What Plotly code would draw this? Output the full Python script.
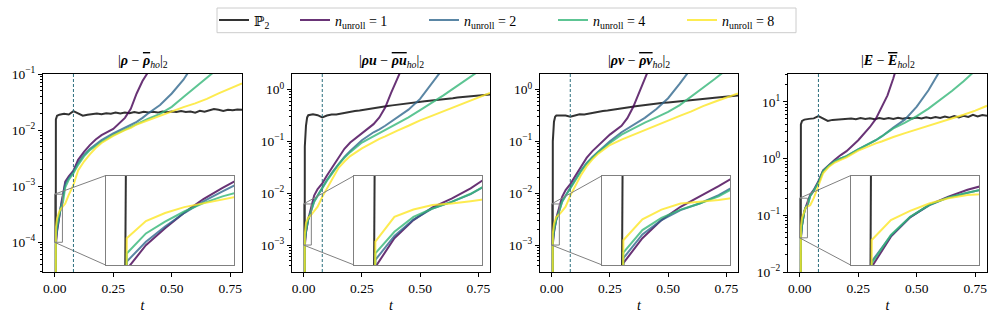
import math
import plotly.graph_objects as go

# ---------------- data ----------------
t = [0, 0.005, 0.01, 0.015, 0.02, 0.025, 0.03, 0.035, 0.045, 0.06, 0.08, 0.1,
     0.125, 0.15, 0.175, 0.2, 0.25, 0.3, 0.325, 0.35, 0.375, 0.4, 0.45, 0.5,
     0.55, 0.6, 0.65, 0.7, 0.75, 0.8]
t_p2 = [0, 0.005, 0.01, 0.015, 0.02, 0.04, 0.06, 0.08, 0.1, 0.12, 0.14, 0.16,
        0.18, 0.2, 0.22, 0.24, 0.26, 0.28, 0.3, 0.32, 0.34, 0.36, 0.38, 0.4,
        0.42, 0.44, 0.46, 0.48, 0.5, 0.52, 0.54, 0.56, 0.58, 0.6, 0.62, 0.64,
        0.66, 0.68, 0.7, 0.72, 0.74, 0.76, 0.78, 0.8]

# density error
rho_p2 = [0, 1.55e-2, 1.8e-2, 1.85e-2, 1.88e-2, 1.95e-2, 1.9e-2, 2.18e-2, 2.0e-2, 1.8e-2,
          1.88e-2, 1.92e-2, 1.97e-2, 1.92e-2, 2.0e-2, 1.95e-2, 2.05e-2, 1.97e-2, 2.05e-2,
          2.0e-2, 2.1e-2, 2.02e-2, 2.12e-2, 2.05e-2, 2.12e-2, 2.05e-2, 2.15e-2, 2.08e-2,
          2.15e-2, 2.1e-2, 2.18e-2, 2.1e-2, 2.15e-2, 2.05e-2, 2.2e-2, 2.12e-2, 2.25e-2,
          2.38e-2, 2.3e-2, 2.2e-2, 2.3e-2, 2.25e-2, 2.32e-2, 2.3e-2]
rho_n1 = [0, 9.1e-5, 1.55e-4, 2.25e-4, 3.18e-4, 4.29e-4, 5.5e-4, 6.9e-4, 1.2e-3, 1.5e-3,
          1.9e-3, 2.95e-3, 4.1e-3, 5.4e-3, 6.8e-3, 8.1e-3, 1.05e-2, 1.65e-2, 2.4e-2,
          4.5e-2, 7.5e-2, 0.11, 0.5, 2.0, 8.0, 30, 100, 300, 1000, 3000]
rho_n2 = [0, 1.08e-4, 1.67e-4, 2.34e-4, 3.15e-4, 4.08e-4, 5.07e-4, 6.3e-4, 1.1e-3, 1.4e-3,
          1.8e-3, 2.6e-3, 3.6e-3, 4.6e-3, 5.5e-3, 6.6e-3, 8.7e-3, 1.1e-2, 1.22e-2, 1.4e-2,
          1.65e-2, 2.0e-2, 2.8e-2, 4.5e-2, 7.9e-2, 0.16, 0.35, 0.8, 1.8, 4.0]
rho_n4 = [0, 1.29e-4, 2.01e-4, 2.61e-4, 3.26e-4, 3.92e-4, 4.55e-4, 5.1e-4, 9.5e-4, 1.3e-3,
          1.7e-3, 2.4e-3, 3.4e-3, 4.4e-3, 5.2e-3, 6.2e-3, 8.1e-3, 1.02e-2, 1.14e-2, 1.27e-2,
          1.43e-2, 1.6e-2, 1.95e-2, 2.6e-2, 3.9e-2, 5.8e-2, 8.5e-2, 0.126, 0.19, 0.28]
rho_n8 = [0, 1.81e-4, 2.64e-4, 3.15e-4, 3.59e-4, 3.85e-4, 4.13e-4, 4.35e-4, 4.9e-4, 7.0e-4,
          1.05e-3, 1.9e-3, 2.75e-3, 3.7e-3, 4.8e-3, 5.9e-3, 7.9e-3, 1.0e-2, 1.1e-2, 1.26e-2,
          1.38e-2, 1.51e-2, 1.82e-2, 2.19e-2, 2.57e-2, 3.0e-2, 3.6e-2, 4.5e-2, 5.5e-2, 6.8e-2]

# x-momentum error
mx_p2 = [0, 0.08, 0.2, 0.29, 0.32, 0.335, 0.32, 0.29, 0.315, 0.33, 0.33, 0.345, 0.355,
         0.37, 0.385, 0.395, 0.41, 0.425, 0.44, 0.455, 0.47, 0.48, 0.495, 0.51, 0.53,
         0.545, 0.555, 0.57, 0.58, 0.595, 0.61, 0.62, 0.635, 0.65, 0.665, 0.68, 0.70,
         0.715, 0.73, 0.745, 0.76, 0.775, 0.79, 0.8]
mx_n1 = [0, 9.6e-4, 1.73e-3, 2.5e-3, 3.24e-3, 3.88e-3, 4.77e-3, 6.2e-3, 9e-3, 1.2e-2,
         1.55e-2, 2.2e-2, 3.3e-2, 5e-2, 7.2e-2, 9.5e-2, 0.145, 0.215, 0.29, 0.45, 0.85,
         1.6, 6, 20, 60, 200, 600, 2000, 6000, 2e4]
mx_n2 = [0, 1.11e-3, 1.81e-3, 2.53e-3, 3.17e-3, 3.63e-3, 4.25e-3, 5.3e-3, 7e-3, 9e-3,
         1.3e-2, 1.8e-2, 2.6e-2, 3.7e-2, 5e-2, 6.5e-2, 0.105, 0.15, 0.17, 0.2, 0.24, 0.28,
         0.41, 0.66, 1.3, 2.6, 6, 14, 30, 70]
mx_n4 = [0, 1.27e-3, 1.97e-3, 2.67e-3, 3.17e-3, 3.63e-3, 4.28e-3, 5.3e-3, 6.8e-3, 8.8e-3,
         1.25e-2, 1.75e-2, 2.5e-2, 3.6e-2, 4.8e-2, 6.2e-2, 9.5e-2, 0.125, 0.142, 0.162,
         0.19, 0.22, 0.29, 0.4, 0.55, 0.77, 1.1, 1.55, 2.2, 3.2]
mx_n8 = [0, 1.61e-3, 2.67e-3, 3.1e-3, 3.4e-3, 3.51e-3, 3.68e-3, 3.95e-3, 4.5e-3, 5.5e-3,
         8.5e-3, 1.25e-2, 2.05e-2, 3.1e-2, 4.1e-2, 5.2e-2, 7.3e-2, 9.8e-2, 0.112, 0.125,
         0.142, 0.16, 0.2, 0.255, 0.31, 0.38, 0.475, 0.58, 0.71, 0.86]

# y-momentum error
my_p2 = [0, 0.1, 0.24, 0.3, 0.315, 0.32, 0.315, 0.3, 0.315, 0.335, 0.33, 0.345, 0.355,
         0.37, 0.385, 0.395, 0.405, 0.42, 0.43, 0.445, 0.46, 0.475, 0.49, 0.5, 0.515,
         0.53, 0.54, 0.555, 0.565, 0.575, 0.59, 0.6, 0.615, 0.625, 0.635, 0.65, 0.665,
         0.68, 0.695, 0.71, 0.725, 0.74, 0.755, 0.77]
my_n1 = [0, 1.04e-3, 1.73e-3, 2.5e-3, 3.28e-3, 4.02e-3, 4.99e-3, 6.3e-3, 8.5e-3, 1.15e-2,
         1.5e-2, 2.1e-2, 3.1e-2, 4.8e-2, 6.5e-2, 8.3e-2, 0.135, 0.2, 0.28, 0.46, 0.9, 1.7,
         6, 20, 60, 200, 600, 2000, 6000, 2e4]
my_n2 = [0, 1.15e-3, 1.87e-3, 2.5e-3, 3.07e-3, 3.51e-3, 4.16e-3, 5.2e-3, 7e-3, 9e-3,
         1.3e-2, 1.8e-2, 2.7e-2, 3.8e-2, 5e-2, 6.3e-2, 0.1, 0.15, 0.175, 0.205, 0.24,
         0.285, 0.42, 0.68, 1.3, 2.6, 6, 14, 30, 70]
my_n4 = [0, 1.29e-3, 2.04e-3, 2.62e-3, 3.1e-3, 3.51e-3, 4.07e-3, 5.0e-3, 6.8e-3, 8.8e-3,
         1.25e-2, 1.75e-2, 2.6e-2, 3.7e-2, 4.9e-2, 6.2e-2, 9.3e-2, 0.135, 0.155, 0.178,
         0.205, 0.23, 0.29, 0.37, 0.5, 0.73, 1.1, 1.6, 2.4, 3.5]
my_n8 = [0, 1.66e-3, 2.54e-3, 3.1e-3, 3.51e-3, 3.63e-3, 3.76e-3, 4.0e-3, 4.5e-3, 5.5e-3,
         9e-3, 1.35e-2, 2.2e-2, 3.3e-2, 4.5e-2, 5.8e-2, 8.5e-2, 0.108, 0.12, 0.135, 0.152,
         0.17, 0.21, 0.26, 0.31, 0.38, 0.48, 0.58, 0.7, 0.84]

# energy error
E_p2 = [0, 4.0, 4.6, 4.8, 4.85, 5.0, 5.1, 5.6, 5.0, 4.6, 4.8, 4.85, 5.0, 4.9, 5.1, 4.95,
        5.2, 5.0, 5.15, 4.95, 5.2, 5.0, 5.2, 5.0, 5.25, 5.05, 5.25, 5.1, 5.3, 5.1, 5.35,
        5.15, 5.4, 5.2, 5.5, 5.25, 5.6, 5.3, 5.65, 5.4, 5.9, 5.5, 5.85, 5.7]
E_n1 = [0, 3.87e-2, 6.67e-2, 9.44e-2, 0.118, 0.137, 0.155, 0.17, 0.23, 0.28, 0.4, 0.62,
        0.78, 0.95, 1.15, 1.35, 2.1, 3.6, 5.0, 8.0, 13, 26, 150, 800, 4000, 2e4, 1e5, 5e5,
        2e6, 1e7]
E_n2 = [0, 4.27e-2, 6.8e-2, 9.46e-2, 0.117, 0.135, 0.147, 0.158, 0.22, 0.27, 0.38, 0.6,
        0.75, 0.9, 1.0, 1.1, 1.45, 1.85, 2.1, 2.45, 2.95, 3.5, 4.9, 8.2, 16, 34, 80, 200,
        500, 1200]
E_n4 = [0, 4.13e-2, 6.87e-2, 9.55e-2, 0.118, 0.135, 0.147, 0.158, 0.22, 0.27, 0.38, 0.6,
        0.75, 0.9, 1.0, 1.1, 1.45, 1.85, 2.1, 2.45, 2.9, 3.4, 4.3, 5.6, 7.6, 10.8, 15.5, 23,
        35, 55]
E_n8 = [0, 6.28e-2, 9.0e-2, 0.106, 0.121, 0.133, 0.141, 0.145, 0.15, 0.2, 0.33, 0.55,
        0.72, 0.85, 0.95, 1.05, 1.38, 1.7, 1.85, 2.0, 2.2, 2.4, 2.8, 3.25, 3.75, 4.35, 5.0,
        5.9, 7.0, 8.5]

t_train = 0.08  # vertical dashed marker

series_labels = ["ℙ<sub>2</sub>",
                 "<i>n</i><sub>unroll</sub> = 1",
                 "<i>n</i><sub>unroll</sub> = 2",
                 "<i>n</i><sub>unroll</sub> = 4",
                 "<i>n</i><sub>unroll</sub> = 8"]
OV = '<span style="text-decoration:overline">'
panel_titles = [
    "|<b><i>ρ</i></b> − " + OV + "<b><i>ρ</i></b></span><sub><i>ho</i></sub>|<sub>2</sub>",
    "|<b><i>ρu</i></b> − " + OV + "<b><i>ρu</i></b></span><sub><i>ho</i></sub>|<sub>2</sub>",
    "|<b><i>ρv</i></b> − " + OV + "<b><i>ρv</i></b></span><sub><i>ho</i></sub>|<sub>2</sub>",
    "|<b><i>E</i></b> − " + OV + "<b><i>E</i></b></span><sub><i>ho</i></sub>|<sub>2</sub>",
]
x_tick_vals = [0, 0.25, 0.5, 0.75]
x_tick_text = ["0.00", "0.25", "0.50", "0.75"]
y_tick_exps = [[-4, -3, -2, -1], [-3, -2, -1, 0], [-3, -2, -1, 0], [-2, -1, 0, 1]]
inset_ylims = [[1e-4, 7.2e-4], [1e-3, 6.2e-3], [1e-3, 6.2e-3], [0.04, 0.2]]

panel_p2 = [rho_p2, mx_p2, my_p2, E_p2]
panel_n = [[rho_n1, rho_n2, rho_n4, rho_n8],
           [mx_n1, mx_n2, mx_n4, mx_n8],
           [my_n1, my_n2, my_n4, my_n8],
           [E_n1, E_n2, E_n4, E_n8]]

# ---------------- layout / style ----------------
W, H = 996, 319
FONT = "Liberation Serif, DejaVu Serif, serif"
colors = ["black", "#440154", "#31688e", "#35b779", "#fde725"]
panel_px = [(43, 242), (292, 490), (540, 738), (788, 987)]
top_px, bot_px = 74, 272
x_range = [-0.05, 0.8]
y_ranges = [[-4.53, -1.0], [-3.52, 0.30], [-3.52, 0.30], [-2.0, 1.49]]
inset_xlim = [-0.0005, 0.033]
inset_box = (0.315, 0.96, 0.035, 0.487)  # axes fractions x0, x1, y0, y1
legend_ids = ["legend", "legend2", "legend3", "legend4", "legend5"]
legend_line_px = [222, 303, 432, 561, 690]

FLOOR = 1e-30  # non-positive values clipped like a log scale does


def clip(vals):
    return [max(v, FLOOR) for v in vals]


def sup(k):
    return "10<sup>" + (("−" + str(-k)) if k < 0 else str(k)) + "</sup>"


fig = go.Figure()
layout = dict(width=W, height=H, margin=dict(l=0, r=0, t=0, b=0, autoexpand=False),
              paper_bgcolor="white", plot_bgcolor="white",
              font=dict(family=FONT, size=13.5, color="black"),
              showlegend=True, annotations=[], shapes=[])

for i in range(4):
    s = "" if i == 0 else str(i + 1)
    si = str(i + 5)
    l, r = panel_px[i]
    yr = y_ranges[i]
    series = [panel_p2[i]] + panel_n[i]
    xs = [t_p2] + [t] * 4

    # main axes traces
    for k in range(5):
        fig.add_trace(go.Scatter(
            x=xs[k], y=clip(series[k]), mode="lines", name=series_labels[k],
            line=dict(color=colors[k], width=2), opacity=0.8,
            xaxis="x" + s, yaxis="y" + s, showlegend=(i == 0),
            legend=legend_ids[k], hoverinfo="skip"))

    # inset region marker + connectors on main axes
    ix0, ix1 = inset_xlim
    iy0, iy1 = inset_ylims[i]
    fig.add_trace(go.Scatter(
        x=[ix0, ix1, ix1, ix0, ix0], y=[iy0, iy0, iy1, iy1, iy0], mode="lines",
        line=dict(color="#808080", width=1), xaxis="x" + s, yaxis="y" + s,
        showlegend=False, hoverinfo="skip"))
    fx0, fx1, fy0, fy1 = inset_box
    cx = x_range[0] + fx0 * (x_range[1] - x_range[0])
    cy_top = 10 ** (yr[0] + fy1 * (yr[1] - yr[0]))
    cy_bot = 10 ** (yr[0] + fy0 * (yr[1] - yr[0]))
    fig.add_trace(go.Scatter(
        x=[ix0, cx, None, ix0, cx], y=[iy1, cy_top, None, iy0, cy_bot], mode="lines",
        line=dict(color="#808080", width=1), xaxis="x" + s, yaxis="y" + s,
        showlegend=False, hoverinfo="skip", connectgaps=False))

    # inset traces
    for k in range(5):
        fig.add_trace(go.Scatter(
            x=xs[k], y=clip(series[k]), mode="lines",
            line=dict(color=colors[k], width=2), opacity=0.8,
            xaxis="x" + si, yaxis="y" + si, showlegend=False, hoverinfo="skip"))

    # dashed marker
    layout["shapes"].append(dict(type="line", xref="x" + s, yref="y" + s + " domain",
                                 x0=t_train, x1=t_train, y0=0, y1=1,
                                 line=dict(color="#2c6f7e", width=1, dash="3px,2px")))

    axis_common = dict(showline=True, mirror=True, linecolor="black", linewidth=1,
                       ticks="outside", ticklen=4, tickwidth=1, tickcolor="black",
                       showgrid=False, zeroline=False, automargin=False,
                       tickfont=dict(family=FONT, size=13.5, color="black"))
    layout["xaxis" + s] = dict(domain=[l / W, r / W], range=x_range, anchor="y" + s,
                               tickvals=x_tick_vals, ticktext=x_tick_text,
                               title=dict(text="<i>t</i>", standoff=4,
                                          font=dict(family=FONT, size=14)),
                               **axis_common)
    layout["yaxis" + s] = dict(domain=[1 - bot_px / H, 1 - top_px / H], type="log",
                               range=yr, anchor="x" + s,
                               tickvals=[10 ** e for e in y_tick_exps[i]],
                               ticktext=[sup(e) for e in y_tick_exps[i]],
                               minor=dict(ticks="outside", ticklen=2, tickwidth=0.7,
                                          tickcolor="black", dtick="D1", showgrid=False),
                               **axis_common)

    # inset axes
    w = r - l
    hgt = bot_px - top_px
    inset_common = dict(showline=True, mirror=True, linecolor="#808080", linewidth=1,
                        ticks="", showticklabels=False, showgrid=False, zeroline=False,
                        automargin=False)
    layout["xaxis" + si] = dict(domain=[(l + fx0 * w) / W, (l + fx1 * w) / W],
                                range=inset_xlim, anchor="y" + si, **inset_common)
    layout["yaxis" + si] = dict(domain=[1 - (bot_px - fy0 * hgt) / H, 1 - (bot_px - fy1 * hgt) / H],
                                type="log", range=[math.log10(iy0), math.log10(iy1)],
                                anchor="x" + si, **inset_common)

    layout["annotations"].append(dict(text=panel_titles[i], xref="paper", yref="paper",
                                      x=(l + r) / 2 / W, y=1 - 61.7 / H,
                                      xanchor="center", yanchor="middle", showarrow=False,
                                      font=dict(family=FONT, size=14, color="black")))

# legends: one entry each, inside one common frame
for k in range(5):
    layout[legend_ids[k]] = dict(x=(legend_line_px[k] - 8) / W, y=1 - 20.5 / H,
                                 xanchor="left", yanchor="middle", orientation="h",
                                 bgcolor="rgba(0,0,0,0)", borderwidth=0,
                                 font=dict(family=FONT, size=14, color="black"))
layout["shapes"].append(dict(type="rect", xref="paper", yref="paper",
                             x0=217 / W, x1=796 / W, y0=1 - 32.7 / H, y1=1 - 8 / H,
                             line=dict(color="#cccccc", width=1), fillcolor="white",
                             layer="below"))

fig.update_layout(**layout)
fig.write_html("out.html", config={"displayModeBar": False},
               post_script="document.body.style.margin='0';"
                           "document.body.style.padding='0';")
